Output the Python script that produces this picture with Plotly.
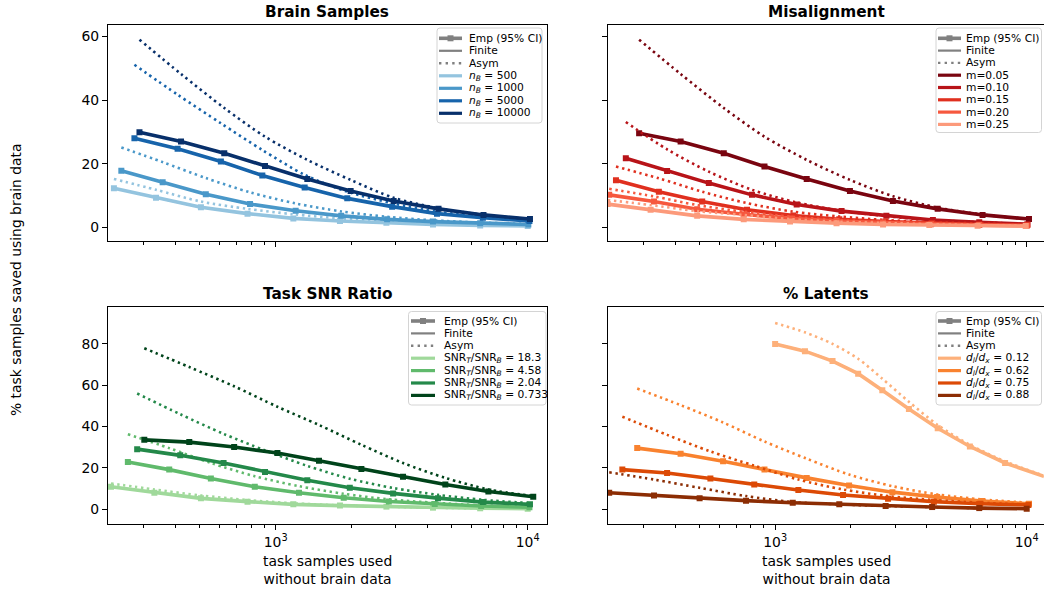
import plotly.graph_objects as go

W, H = 1044, 591
FONT = "DejaVu Sans"

# ---------------- data ----------------
# Brain Samples panel
BRAIN_LABELS = ["<i>n</i><sub><i>B</i></sub> = 500", "<i>n</i><sub><i>B</i></sub> = 1000",
                "<i>n</i><sub><i>B</i></sub> = 5000", "<i>n</i><sub><i>B</i></sub> = 10000"]
BRAIN_X = [[228, 335, 505, 773, 1175, 1799, 2750, 4209, 6477, 10000],
           [244, 356, 528, 791, 1200, 1820, 2768, 4209, 6477, 10060],
           [275, 408, 606, 885, 1303, 1923, 2898, 4365, 6640, 10160],
           [288, 421, 625, 907, 1335, 1983, 2938, 4427, 6676, 10210]]
BRAIN_EMP = [[12.3, 9.3, 6.3, 4.3, 2.8, 2.0, 1.4, 0.9, 0.6, 0.4],
             [17.8, 14.2, 10.4, 7.3, 5.2, 3.6, 2.5, 1.8, 1.3, 0.9],
             [28.0, 24.7, 20.7, 16.3, 12.5, 9.1, 6.5, 4.3, 3.0, 2.0],
             [29.9, 27.0, 23.3, 19.3, 15.2, 11.4, 8.3, 5.8, 3.9, 2.6]]
BRAIN_ASYM = [[15.2, 11.8, 8.1, 5.8, 4.1, 2.8, 1.8, 1.2, 0.8, 0.5],
              [25.1, 20.5, 15.5, 11.0, 7.5, 5.0, 3.3, 2.2, 1.5, 1.0],
              [51.1, 41.7, 32.7, 24.3, 16.5, 11.2, 7.6, 4.9, 3.4, 2.0],
              [59.0, 48.2, 37.5, 28.5, 21.2, 14.9, 9.3, 6.0, 3.9, 2.6]]
BRAIN_COLORS = ["#94c4df", "#4a98c9", "#1764ab", "#08306b"]

# Misalignment panel
MIS_LABELS = ["m=0.05", "m=0.10", "m=0.15", "m=0.20", "m=0.25"]
MIS_X = [[288, 421, 625, 907, 1335, 1983, 2938, 4427, 6676, 10210],
         [255, 372, 545, 809, 1218, 1837, 2768, 4236, 6477, 10060],
         [233, 345, 513, 773, 1182, 1799, 2750, 4209, 6477, 10060],
         [219, 330, 490, 750, 1146, 1754, 2685, 4169, 6477, 10000],
         [216, 320, 490, 750, 1146, 1754, 2685, 4102, 6380, 9910]]
MIS_EMP = [[29.6, 27.0, 23.3, 19.1, 15.2, 11.4, 8.3, 5.8, 3.9, 2.6],
           [21.7, 17.7, 13.9, 10.2, 7.2, 5.1, 3.6, 2.3, 1.6, 1.0],
           [14.8, 11.2, 8.1, 5.5, 3.7, 2.5, 1.8, 1.3, 0.9, 0.7],
           [10.2, 8.1, 5.7, 4.1, 2.8, 2.0, 1.5, 1.0, 0.7, 0.5],
           [7.3, 5.5, 3.6, 2.5, 1.8, 1.3, 0.9, 0.7, 0.5, 0.4]]
MIS_ASYM = [[59.0, 48.2, 37.5, 28.5, 21.2, 14.9, 9.8, 6.2, 4.0, 2.6],
            [33.1, 24.5, 17.5, 11.8, 7.8, 5.2, 3.5, 2.3, 1.6, 1.0],
            [19.1, 15.4, 11.2, 7.6, 4.9, 3.4, 2.3, 1.6, 1.2, 0.8],
            [12.1, 9.7, 7.0, 4.9, 3.4, 2.3, 1.7, 1.2, 0.8, 0.6],
            [8.6, 7.0, 5.1, 3.9, 2.6, 1.8, 1.4, 1.0, 0.7, 0.5]]
MIS_COLORS = ["#7a0510", "#b81419", "#e0301f", "#f6583e", "#fc9a7b"]

# Task SNR Ratio panel
SNR_LABELS = ["SNR<sub><i>T</i></sub>/SNR<sub><i>B</i></sub> = 18.3",
              "SNR<sub><i>T</i></sub>/SNR<sub><i>B</i></sub> = 4.58",
              "SNR<sub><i>T</i></sub>/SNR<sub><i>B</i></sub> = 2.04",
              "SNR<sub><i>T</i></sub>/SNR<sub><i>B</i></sub> = 0.733"]
SNR_X = [[222, 330, 505, 773, 1175, 1799, 2750, 4209, 6477, 10000],
         [259, 378, 553, 826, 1237, 1862, 2811, 4276, 6536, 10160],
         [282, 418, 621, 907, 1335, 1968, 2924, 4405, 6640, 10210],
         [301, 454, 684, 1016, 1485, 2188, 3201, 4711, 6982, 10520]]
SNR_EMP = [[10.9, 8.0, 5.3, 3.7, 2.4, 1.8, 1.3, 0.8, 0.5, 0.3],
           [22.9, 19.2, 14.9, 10.9, 8.0, 5.6, 3.8, 2.6, 1.6, 1.0],
           [29.1, 26.1, 22.4, 18.1, 14.1, 10.4, 7.7, 5.4, 3.5, 2.4],
           [33.6, 32.5, 30.1, 27.2, 23.5, 19.5, 15.7, 12.0, 8.6, 6.1]]
SNR_ASYM = [[12.5, 9.6, 6.7, 4.5, 2.9, 1.9, 1.3, 0.8, 0.5, 0.3],
            [36.3, 29.6, 22.4, 16.0, 11.2, 7.5, 4.8, 3.2, 1.9, 1.1],
            [56.0, 46.0, 36.5, 28.5, 21.0, 14.8, 10.3, 7.0, 4.6, 3.0],
            [77.9, 68.8, 59.5, 49.6, 40.8, 31.2, 22.4, 15.2, 9.6, 6.4]]
SNR_COLORS = ["#a0d99b", "#60ba6c", "#24894a", "#00441b"]

# % Latents panel
LAT_LABELS = ["<i>d</i><sub><i>l</i></sub>/<i>d</i><sub><i>x</i></sub> = 0.12",
              "<i>d</i><sub><i>l</i></sub>/<i>d</i><sub><i>x</i></sub> = 0.62",
              "<i>d</i><sub><i>l</i></sub>/<i>d</i><sub><i>x</i></sub> = 0.75",
              "<i>d</i><sub><i>l</i></sub>/<i>d</i><sub><i>x</i></sub> = 0.88"]
LAT_X = [[1000, 1314, 1691, 2138, 2667, 3402, 4429, 5944, 8204, 12000],
         [283, 421, 621, 907, 1335, 1968, 2924, 4405, 6640, 10210],
         [247, 372, 553, 826, 1237, 1862, 2811, 4276, 6536, 10160],
         [219, 330, 501, 766, 1175, 1799, 2750, 4209, 6477, 10000]]
LAT_EMP = [[80.0, 76.5, 71.7, 65.6, 57.6, 48.5, 39.2, 30.4, 22.4, 15.5],
           [29.6, 26.9, 23.2, 19.2, 15.2, 11.5, 8.3, 5.9, 4.0, 2.7],
           [19.2, 17.6, 14.9, 12.0, 9.3, 6.9, 5.1, 3.7, 2.7, 2.1],
           [8.0, 6.7, 5.3, 4.2, 3.2, 2.4, 1.6, 1.1, 0.6, 0.3]]
LAT_ASYM = [[90.1, 85.6, 80.0, 72.8, 63.2, 52.0, 40.8, 31.2, 23.2, 15.8],
            [58.4, 50.4, 42.0, 32.8, 24.5, 16.8, 11.2, 7.2, 4.8, 3.2],
            [44.8, 36.0, 28.0, 21.1, 14.4, 9.6, 6.4, 4.5, 3.2, 2.2],
            [17.9, 14.4, 10.4, 6.4, 3.5, 2.4, 1.6, 1.1, 0.6, 0.3]]
LAT_COLORS = ["#fdb07a", "#f9822f", "#dc4a06", "#8c2d04"]

TITLES = ["Brain Samples", "Misalignment", "Task SNR Ratio", "% Latents"]
GENERIC_LABELS = ["Emp (95% CI)", "Finite", "Asym"]
Y_TICKS_TOP = [0, 20, 40, 60]
Y_TICKS_BOTTOM = [0, 20, 40, 60, 80]
X_TICKS = [1000, 10000]
X_TICKTEXT = ["10<sup>3</sup>", "10<sup>4</sup>"]
X_MINOR = [200, 300, 400, 500, 600, 700, 800, 900, 2000, 3000, 4000, 5000, 6000, 7000, 8000, 9000]


def px(x):
    return x / W


def py(y):
    return 1 - y / H


def rounded_box(x0, y0, x1, y1, r=3):
    """SVG path (paper coords) of a rounded rectangle given pixel corners."""
    X = lambda v: px(v)
    Y = lambda v: py(v)
    return (f"M {X(x0 + r)},{Y(y0)} L {X(x1 - r)},{Y(y0)} Q {X(x1)},{Y(y0)} {X(x1)},{Y(y0 + r)} "
            f"L {X(x1)},{Y(y1 - r)} Q {X(x1)},{Y(y1)} {X(x1 - r)},{Y(y1)} "
            f"L {X(x0 + r)},{Y(y1)} Q {X(x0)},{Y(y1)} {X(x0)},{Y(y1 - r)} "
            f"L {X(x0)},{Y(y0 + r)} Q {X(x0)},{Y(y0)} {X(x0 + r)},{Y(y0)} Z")


fig = go.Figure()

panels = [
    dict(xa="x", ya="y", labels=BRAIN_LABELS, xs=BRAIN_X, emp=BRAIN_EMP, asym=BRAIN_ASYM, colors=BRAIN_COLORS,
         box=(437, 28, 542, 123), y0=38.3, step=12.5, sx=(439, 462), tx=467),
    dict(xa="x2", ya="y2", labels=MIS_LABELS, xs=MIS_X, emp=MIS_EMP, asym=MIS_ASYM, colors=MIS_COLORS,
         box=(936, 28, 1041.5, 132.5), y0=38.3, step=12.3, sx=(938, 961), tx=964),
    dict(xa="x3", ya="y3", labels=SNR_LABELS, xs=SNR_X, emp=SNR_EMP, asym=SNR_ASYM, colors=SNR_COLORS,
         box=(408.5, 311.5, 546, 405), y0=321, step=12.4, sx=(411, 435), tx=442),
    dict(xa="x4", ya="y4", labels=LAT_LABELS, xs=LAT_X, emp=LAT_EMP, asym=LAT_ASYM, colors=LAT_COLORS,
         box=(936, 311.5, 1041.5, 405), y0=321, step=12.4, sx=(938, 961), tx=964),
]

shapes = []
annotations = []

for p in panels:
    for lab, xs, e, a, c in zip(p["labels"], p["xs"], p["emp"], p["asym"], p["colors"]):
        fig.add_trace(go.Scatter(x=xs, y=a, mode="lines", xaxis=p["xa"], yaxis=p["ya"],
                                 line=dict(color=c, width=2.6, dash="2.4px,3.6px", shape="spline", smoothing=0.8),
                                 showlegend=False, hoverinfo="skip"))
        fig.add_trace(go.Scatter(x=xs, y=e, mode="lines+markers", xaxis=p["xa"], yaxis=p["ya"],
                                 line=dict(color=c, width=3.6),
                                 marker=dict(symbol="square", size=6, color=c),
                                 showlegend=False, hoverinfo="skip"))
        fig.add_trace(go.Scatter(x=xs, y=e, mode="lines", xaxis=p["xa"], yaxis=p["ya"],
                                 line=dict(color=c, width=1.6, shape="spline", smoothing=0.6),
                                 showlegend=False, hoverinfo="skip"))

    # manual legend
    bx0, by0, bx1, by1 = p["box"]
    shapes.append(dict(type="path", xref="paper", yref="paper", layer="above",
                       path=rounded_box(bx0, by0, bx1, by1),
                       line=dict(color="#d4d4d4", width=1), fillcolor="rgba(255,255,255,0.8)"))
    sx0, sx1 = p["sx"]
    entries = [("emp", "#808080", GENERIC_LABELS[0]), ("finite", "#808080", GENERIC_LABELS[1]),
               ("asym", "#808080", GENERIC_LABELS[2])]
    entries += [("series", c, lab) for lab, c in zip(p["labels"], p["colors"])]
    for i, (kind, col, text) in enumerate(entries):
        yc = p["y0"] + i * p["step"]
        if kind == "emp":
            shapes.append(dict(type="line", xref="paper", yref="paper", layer="above",
                               x0=px(sx0), x1=px(sx1), y0=py(yc), y1=py(yc),
                               line=dict(color=col, width=3.6)))
            mx = (sx0 + sx1) / 2
            shapes.append(dict(type="rect", xref="paper", yref="paper", layer="above",
                               x0=px(mx - 3), x1=px(mx + 3), y0=py(yc + 3), y1=py(yc - 3),
                               line=dict(width=0), fillcolor=col))
        elif kind == "finite":
            shapes.append(dict(type="line", xref="paper", yref="paper", layer="above",
                               x0=px(sx0), x1=px(sx1), y0=py(yc), y1=py(yc),
                               line=dict(color=col, width=2.2)))
        elif kind == "asym":
            shapes.append(dict(type="line", xref="paper", yref="paper", layer="above",
                               x0=px(sx0), x1=px(sx1), y0=py(yc), y1=py(yc),
                               line=dict(color=col, width=2.4, dash="2.4px,4.2px")))
        else:
            shapes.append(dict(type="line", xref="paper", yref="paper", layer="above",
                               x0=px(sx0), x1=px(sx1), y0=py(yc), y1=py(yc),
                               line=dict(color=col, width=3.2)))
        annotations.append(dict(text=text, xref="paper", yref="paper", x=px(p["tx"]), y=py(yc),
                                xanchor="left", yanchor="middle", showarrow=False,
                                font=dict(family=FONT, size=10.7, color="black")))

# titles
title_pos = [(327.3, 12), (826, 12), (327.3, 294), (826, 294)]
for t, (x, y) in zip(TITLES, title_pos):
    annotations.append(dict(text="<b>" + t + "</b>", xref="paper", yref="paper", x=px(x), y=py(y),
                            xanchor="center", yanchor="middle", showarrow=False,
                            font=dict(family=FONT, size=15.3, color="black")))
for x in (327.3, 826):
    annotations.append(dict(text="task samples used<br>without brain data", xref="paper", yref="paper",
                            x=px(x), y=py(570), xanchor="center", yanchor="middle", showarrow=False,
                            font=dict(family=FONT, size=13.9, color="black")))
annotations.append(dict(text="% task samples saved using brain data", xref="paper", yref="paper",
                        x=px(16), y=py(280), xanchor="center", yanchor="middle", showarrow=False,
                        textangle=-90, font=dict(family=FONT, size=13.9, color="black")))

LEFT_DOM = [108 / W, 546.7 / W]
RIGHT_DOM = [607.7 / W, 1043.5 / W]
TOP_DOM = [py(241), py(25)]
BOT_DOM = [py(524), py(307.3)]


def xaxis(dom, anchor, rng, labels):
    return dict(domain=dom, anchor=anchor, type="log", range=rng,
                tickmode="array", tickvals=X_TICKS, ticktext=X_TICKTEXT, showticklabels=labels,
                ticks="outside", ticklen=5, tickwidth=1.1, tickcolor="black",
                minor=dict(tickmode="array", tickvals=X_MINOR, ticks="outside", ticklen=3,
                           tickwidth=0.8, tickcolor="black", showgrid=False),
                showline=True, linecolor="black", linewidth=1.1, mirror=True,
                showgrid=False, zeroline=False,
                tickfont=dict(family=FONT, size=13.9, color="black"))


def yaxis(dom, anchor, rng, ticks, labels):
    return dict(domain=dom, anchor=anchor, range=rng, tickmode="array", tickvals=ticks,
                showticklabels=labels, ticks="outside", ticklen=5, tickwidth=1.1, tickcolor="black",
                showline=True, linecolor="black", linewidth=1.1, mirror=True,
                showgrid=False, zeroline=False,
                tickfont=dict(family=FONT, size=13.9, color="black"))


fig.update_layout(
    width=W, height=H, autosize=False,
    margin=dict(l=0, r=0, t=0, b=0),
    paper_bgcolor="white", plot_bgcolor="white",
    showlegend=False,
    font=dict(family=FONT, color="black"),
    xaxis=xaxis(LEFT_DOM, "y", [2.3345, 4.0754], False),
    xaxis2=xaxis(RIGHT_DOM, "y2", [2.3345, 4.0667], False),
    xaxis3=xaxis(LEFT_DOM, "y3", [2.3345, 4.0754], True),
    xaxis4=xaxis(RIGHT_DOM, "y4", [2.3345, 4.0667], True),
    yaxis=yaxis(TOP_DOM, "x", [-4.3, 63.6], Y_TICKS_TOP, True),
    yaxis2=yaxis(TOP_DOM, "x2", [-4.3, 63.6], Y_TICKS_TOP, False),
    yaxis3=yaxis(BOT_DOM, "x3", [-7.1, 97.7], Y_TICKS_BOTTOM, True),
    yaxis4=yaxis(BOT_DOM, "x4", [-7.1, 97.7], Y_TICKS_BOTTOM, False),
    shapes=shapes,
    annotations=annotations,
)

fig.write_html("out.html", config={"displayModeBar": False},
               post_script="document.body.style.margin='0';document.body.style.padding='0';"
                           "document.documentElement.style.overflow='hidden';")
